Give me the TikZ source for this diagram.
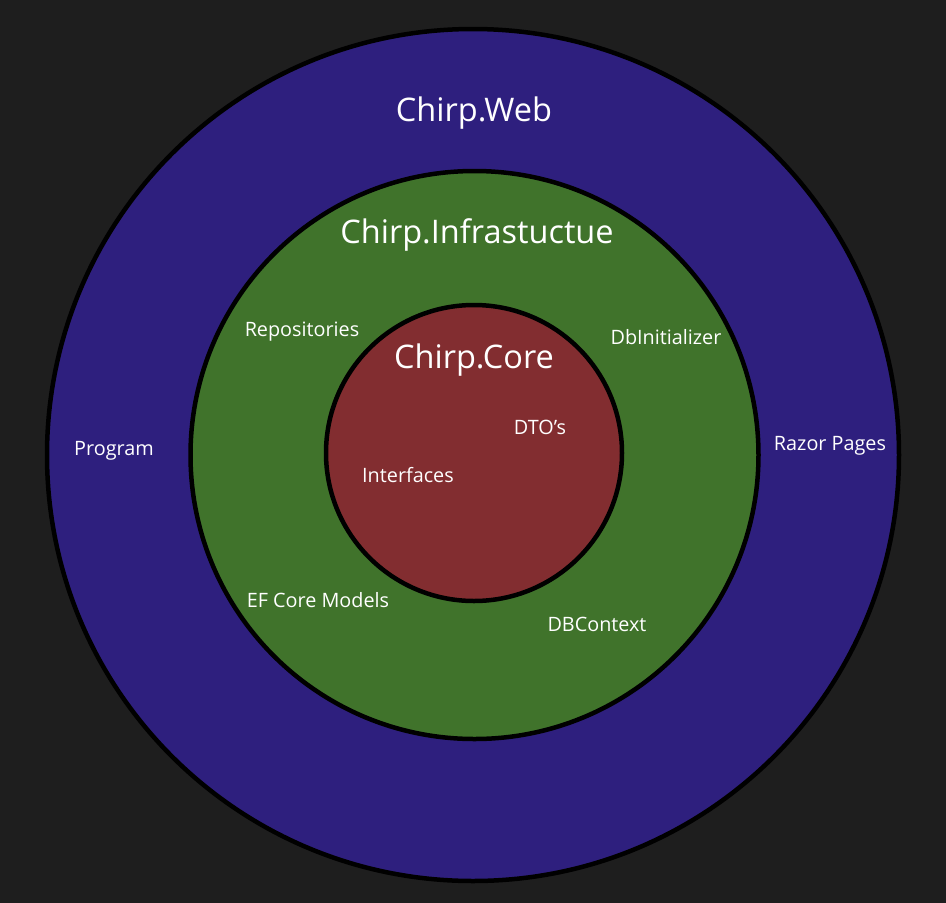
\documentclass[tikz,border=0pt]{standalone}
\usepackage{fontspec}
\setmainfont{Open Sans}
\definecolor{bgdark}{HTML}{1E1E1E}
\definecolor{webblue}{HTML}{2E1F7E}
\definecolor{infragreen}{HTML}{40732B}
\definecolor{corered}{HTML}{822D30}
\begin{document}
\begin{tikzpicture}[x=1pt,y=-1pt,
  ring/.style={draw=black,line width=4.5pt},
  title/.style={text=white,font=\fontsize{32.5}{38}\selectfont,inner sep=0pt},
  item/.style={text=white,font=\fontsize{19.8}{24}\selectfont,inner sep=0pt}]
  % canvas
  \fill[bgdark] (0,0) rectangle (946,903);
  \useasboundingbox (0,0) rectangle (946,903);
  % layers, outermost first
  \path[ring,fill=webblue] (473,455) circle[radius=426];
  \path[ring,fill=infragreen] (474.5,455) circle[radius=284];
  \path[ring,fill=corered] (474,453) circle[radius=148];
  % layer titles
  \node[title] (web) at (474,113) {Chirp.Web};
  \node[title] (infra) at (477,235) {Chirp.Infrastuctue};
  \node[title] (core) at (474,360) {Chirp.Core};
  % web layer contents
  \node[item] (program) at (114,451) {Program};
  \node[item] (razor) at (830,446) {Razor Pages};
  % infrastructure layer contents
  \node[item] (repos) at (302,332) {Repositories};
  \node[item] (dbinit) at (666,337) {DbInitializer};
  \node[item] (efmodels) at (318,600) {EF Core Models};
  \node[item] (dbctx) at (597,624) {DBContext};
  % core layer contents
  \node[item] (dtos) at (540,427) {DTO’s};
  \node[item] (ifaces) at (408,475) {Interfaces};
\end{tikzpicture}
\end{document}
